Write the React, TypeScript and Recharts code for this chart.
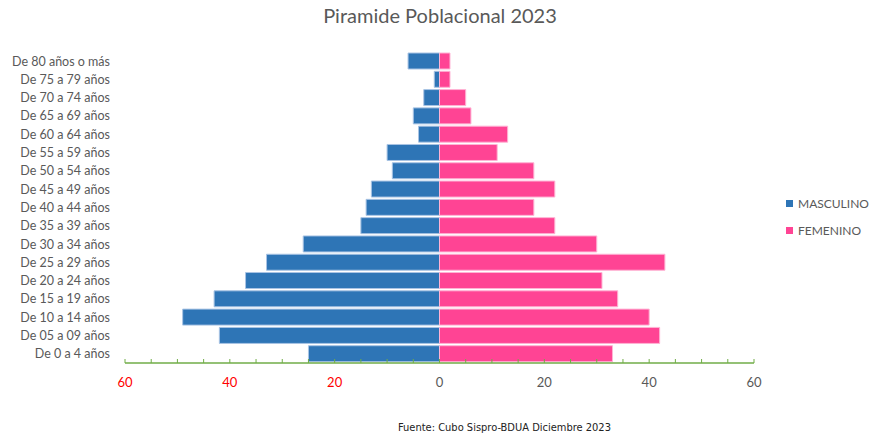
import React from "react"
import { BarChart, Bar, XAxis, YAxis, Legend } from "recharts"

const ageGroups = [
  "De 80 años o más",
  "De 75 a 79 años",
  "De 70 a 74 años",
  "De 65 a 69 años",
  "De 60 a 64 años",
  "De 55 a 59 años",
  "De 50 a 54 años",
  "De 45 a 49 años",
  "De 40 a 44 años",
  "De 35 a 39 años",
  "De 30 a 34 años",
  "De 25 a 29 años",
  "De 20 a 24 años",
  "De 15 a 19 años",
  "De 10 a 14 años",
  "De 05 a 09 años",
  "De 0 a 4 años",
]

const masculino = [6, 1, 3, 5, 4, 10, 9, 13, 14, 15, 26, 33, 37, 43, 49, 42, 25]
const femenino = [2, 2, 5, 6, 13, 11, 18, 22, 18, 22, 30, 43, 31, 34, 40, 42, 33]

const axisTicks = [-60, -55, -50, -45, -40, -35, -30, -25, -20, -15, -10, -5, 0, 5, 10, 15, 20, 25, 30, 35, 40, 45, 50, 55, 60]

const data = ageGroups.map((name, i) => ({
  name,
  masculino: -masculino[i],
  femenino: femenino[i],
}))

const FONT = "Lato, 'Open Sans', sans-serif"
const TICK_MARGIN = 14

function XTick(props: any) {
  const { x, y, payload } = props
  const v = payload.value as number
  const axisY = y - TICK_MARGIN
  return (
    <g>
      <line x1={x} x2={x} y1={axisY} y2={axisY - 4} stroke="#70AD47" strokeWidth={1} />
      {v % 20 === 0 && (
        <text x={x} y={axisY + 24} textAnchor="middle" fontSize={13} fontFamily={FONT} fill={v < 0 ? "#FF0000" : "#595959"}>
          {Math.abs(v)}
        </text>
      )}
    </g>
  )
}

function LegendContent() {
  const items = [
    { label: "MASCULINO", color: "#2E75B6" },
    { label: "FEMENINO", color: "#FF4494" },
  ]
  return (
    <div style={{ fontFamily: FONT, fontSize: 12, color: "#595959", whiteSpace: "nowrap" }}>
      {items.map((it) => (
        <div key={it.label} style={{ display: "flex", alignItems: "center", height: 27 }}>
          <span style={{ width: 7, height: 7, background: it.color, marginRight: 5, display: "inline-block", flexShrink: 0 }} />
          {it.label}
        </div>
      ))}
    </div>
  )
}

export default function App() {
  return (
    <div style={{ position: "absolute", left: 0, top: 0, width: 869, height: 435, background: "#fff" }}>
      <div style={{ position: "absolute", left: 0, width: 880, top: 3, textAlign: "center", fontFamily: FONT, fontSize: 20, color: "#595959" }}>
        Piramide Poblacional 2023
      </div>
      <BarChart
        width={869}
        height={435}
        data={data}
        layout="vertical"
        stackOffset="sign"
        barCategoryGap={1}
        margin={{ top: 52, right: 35, bottom: 42, left: 0 }}
      >
        <XAxis
          type="number"
          domain={[-60, 60]}
          ticks={axisTicks}
          interval={0}
          tickLine={false}
          tickSize={0}
          tickMargin={TICK_MARGIN}
          axisLine={{ stroke: "#70AD47", strokeWidth: 1.5 }}
          tick={<XTick />}
          height={30}
        />
        <YAxis
          type="category"
          dataKey="name"
          width={125}
          interval={0}
          axisLine={false}
          tickLine={false}
          tickMargin={9}
          tick={{ fontSize: 12.5, fontFamily: FONT, fill: "#595959" }}
        />
        <Legend
          layout="vertical"
          align="right"
          verticalAlign="middle"
          content={<LegendContent />}
          wrapperStyle={{ left: 786, top: 190, width: 80 }}
        />
        <Bar dataKey="masculino" name="MASCULINO" stackId="a" fill="#2E75B6" stroke="#A9C4E4" strokeWidth={1} isAnimationActive={false} />
        <Bar dataKey="femenino" name="FEMENINO" stackId="a" fill="#FF4494" stroke="#FFB3D4" strokeWidth={1} isAnimationActive={false} />
      </BarChart>
      <div style={{ position: "absolute", left: 398, top: 421, fontFamily: "'DejaVu Sans Condensed', 'Liberation Sans Narrow', sans-serif", fontStretch: "condensed", fontSize: 11, color: "#222", whiteSpace: "nowrap" }}>
        Fuente: Cubo Sispro-BDUA Diciembre 2023
      </div>
    </div>
  )
}
